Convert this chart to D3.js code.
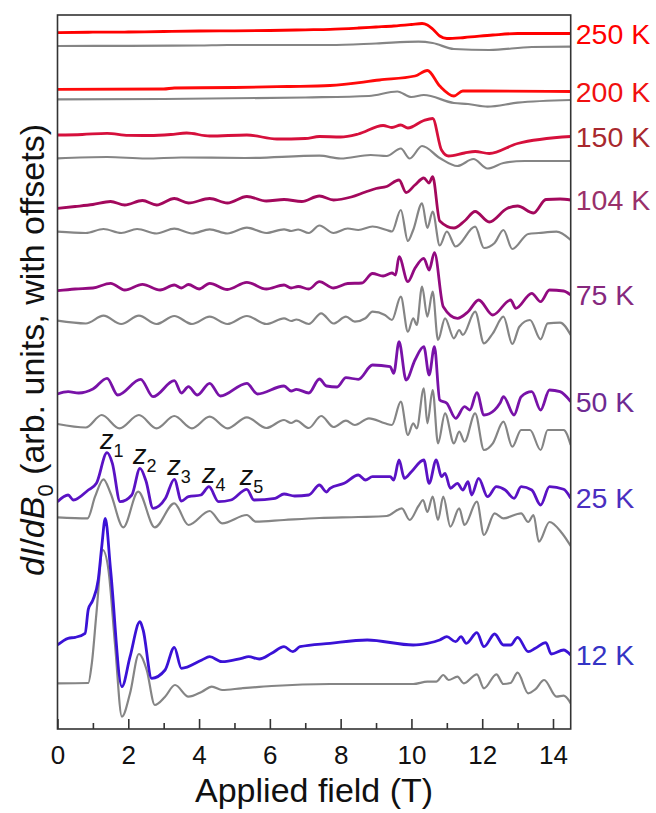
<!DOCTYPE html>
<html>
<head>
<meta charset="utf-8">
<script src="https://cdn.jsdelivr.net/npm/d3@7"></script>
<style>
  html, body { margin: 0; padding: 0; background: #fff; }
  svg { display: block; font-family: Arial, 'Liberation Sans', sans-serif; }
</style>
</head>
<body>
<svg id="chart" width="656" height="813"></svg>
<script>
// dI/dB0 vs applied field, one coloured (measured) and one grey trace per
// temperature. Signal values are in arb. units and already include the offsets.
const temperatures = ['250 K', '200 K', '150 K', '104 K', '75 K', '50 K', '25 K', '12 K'];

const c250 = [[0, 696.3], [1, 696.8], [2, 697], [3, 697.5], [4, 698], [5, 698.2], [6, 698.5], [7, 699.2], [7.7, 699.7], [8.5, 701], [9, 702], [9.5, 703], [10, 704.5], [10.3, 705.5], [10.45, 704], [10.6, 700], [10.8, 693], [11.0, 690.5], [11.5, 691.5], [12.3, 694], [13, 695.5], [13.8, 695.5], [14.5, 695.5]];
const g250 = [[0, 683], [2, 683.2], [4, 683.5], [4.8, 684], [7.7, 684], [9, 685.5], [10.2, 687.3], [10.6, 686], [11.2, 680], [12.2, 679], [13.4, 682], [14.5, 682.3]];

const c200 = [[0, 639.7], [3, 640], [3.3, 641], [5, 641.5], [6.5, 642.5], [7.7, 643.5], [9.1, 649], [10.1, 653], [10.45, 658.5], [10.8, 643], [11.2, 633], [11.45, 638], [12, 638], [14.5, 637.5]];
const g200 = [[0, 629.7], [3, 630], [7, 631.5], [8.8, 633], [9.6, 637.5], [10, 632], [10.35, 634], [11.2, 626], [11.6, 625], [12.15, 622.3], [13, 626.3], [14.5, 629]];

const c150 = [[0, 594], [0.7, 594.5], [1.4, 595.7], [2, 593.7], [2.6, 593.5], [3.2, 594.5], [3.65, 596], [4.3, 593], [5.35, 594], [6.2, 590], [7.0, 590.5], [7.4, 592.5], [8.0, 592], [8.5, 595], [9.2, 603.5], [9.45, 601.5], [9.7, 604], [9.9, 601], [10.35, 608.5], [10.6, 610.5], [10.85, 579], [11.05, 573], [11.5, 576], [11.8, 577.5], [12.2, 575.5], [13, 585.5], [14.5, 592.5]];
const g150 = [[0, 570.7], [1.4, 572], [2.5, 570.5], [3.5, 571.5], [5.3, 571], [7.4, 573.3], [8, 570.5], [8.85, 574], [9.3, 573], [9.7, 580.5], [9.95, 570.5], [10.3, 583], [10.8, 571], [11.3, 563], [11.75, 570], [12.15, 560.5], [12.6, 566], [13.2, 568], [14.5, 568]];

const c104 = [[0, 520.7], [0.5, 522.5], [1.0, 524.5], [1.5, 527.5], [1.9, 524], [2.4, 528.5], [2.8, 524], [3.3, 530.5], [3.7, 526], [4.3, 530.5], [4.8, 526], [5.35, 532.5], [5.9, 528], [6.4, 529.5], [6.9, 527.5], [7.4, 533], [7.8, 529], [8.3, 532], [8.7, 537], [9.0, 540.5], [9.3, 542.5], [9.65, 549], [9.85, 536.5], [10.1, 544], [10.35, 551], [10.5, 546], [10.6, 552.3], [10.8, 508], [11.2, 501], [11.5, 508], [11.8, 517.5], [12.2, 507], [12.7, 520.5], [13.0, 523], [13.45, 516], [13.8, 529.5], [14.2, 530], [14.5, 529]];
const g104 = [[0, 497.3], [0.8, 496], [1.3, 500], [1.8, 496], [2.25, 500], [2.8, 495.5], [3.3, 500.3], [3.8, 495.5], [4.3, 499.7], [4.8, 495.5], [5.35, 501.3], [5.9, 496], [6.4, 499.7], [6.6, 498], [6.8, 499.5], [7.1, 496], [7.4, 503.5], [7.8, 496], [8.2, 500.5], [8.5, 499], [8.9, 502.5], [9.3, 499], [9.45, 497.5], [9.7, 519], [9.9, 488], [10.05, 499], [10.3, 525.7], [10.45, 501], [10.6, 517.3], [10.8, 483.5], [11.0, 497.5], [11.25, 482.5], [11.8, 502.3], [12.05, 481], [12.35, 486], [12.6, 499], [12.85, 480], [13.3, 495], [13.6, 496], [14.1, 497.3], [14.5, 489]];

const c75 = [[0, 438.3], [0.5, 440], [1.0, 441], [1.5, 445.7], [1.9, 439], [2.4, 444.7], [2.9, 439], [3.3, 444], [3.5, 441], [3.7, 444.5], [4.0, 440], [4.3, 445.7], [4.8, 439.5], [5.35, 446.7], [5.9, 440], [6.4, 444], [6.6, 441], [6.8, 442.5], [7.1, 440], [7.4, 447.3], [7.8, 441], [8.2, 445.5], [8.6, 446], [8.9, 455.5], [9.2, 453], [9.45, 456], [9.55, 454], [9.65, 472.3], [9.9, 447.3], [10.1, 460.7], [10.35, 470.7], [10.5, 459], [10.65, 476.3], [10.9, 422.3], [11.3, 410.7], [11.6, 417.3], [11.9, 429], [12.3, 414], [12.8, 429], [12.95, 420.7], [13.4, 435.7], [13.65, 427.3], [13.9, 439], [14.3, 438], [14.5, 434]];
const g75 = [[0, 408.3], [0.8, 405.5], [1.3, 413.3], [1.8, 405], [2.3, 413.3], [2.8, 405], [3.3, 413], [3.8, 405], [4.3, 412.3], [4.8, 405], [5.35, 413], [5.9, 405], [6.4, 410.7], [6.6, 408], [6.75, 409.5], [7.1, 405], [7.45, 415.7], [7.8, 405.5], [8.15, 412.3], [8.4, 407.3], [8.7, 410.7], [8.9, 417.3], [9.25, 414], [9.45, 409], [9.7, 432.3], [9.9, 397.3], [10.05, 410.7], [10.15, 404], [10.3, 442.3], [10.45, 412.3], [10.6, 437.3], [10.75, 389], [10.95, 410.7], [11.2, 390.7], [11.35, 399], [11.45, 394], [11.8, 417.3], [12.05, 385.7], [12.3, 395.7], [12.6, 412.3], [12.85, 385], [13.05, 402.3], [13.35, 409], [13.65, 389.7], [13.85, 405.7], [14.2, 406.3], [14.5, 394]];

const c50 = [[0, 335], [0.3, 337.3], [0.6, 336], [1.0, 340], [1.4, 350.7], [1.7, 334], [2.35, 349.7], [2.7, 332.3], [3.3, 348.3], [3.5, 336], [3.7, 342.3], [3.95, 334], [4.3, 345.7], [4.6, 333], [5.35, 345.7], [5.65, 335], [6.4, 343], [6.6, 338], [6.75, 339.7], [7.1, 336], [7.4, 350], [7.6, 343], [7.9, 342], [8.15, 351.3], [8.5, 349.7], [8.9, 364], [9.4, 362.3], [9.5, 355.7], [9.65, 387.3], [9.85, 349], [10.1, 369], [10.35, 382.3], [10.5, 354], [10.65, 382.3], [10.8, 329], [11.0, 325.7], [11.25, 310.7], [11.5, 322.3], [11.65, 319], [11.85, 336.3], [12.05, 314], [12.35, 319], [12.5, 325.7], [12.6, 332.3], [12.9, 314], [13.1, 332.3], [13.4, 337.3], [13.65, 319], [13.9, 339], [14.2, 337.3], [14.5, 327.3]];
const g50 = [[0, 305], [0.8, 301.5], [1.25, 314], [1.75, 300.7], [2.3, 314], [2.8, 300.7], [3.3, 313], [3.8, 300.7], [4.3, 312.3], [4.8, 300.7], [5.35, 311.7], [5.9, 301], [6.4, 309], [6.6, 306], [6.75, 308.3], [7.1, 301], [7.45, 313], [7.8, 302], [8.15, 308.3], [8.4, 304], [8.8, 310.7], [9.25, 305.7], [9.45, 304], [9.7, 327.3], [9.9, 294], [10.05, 305.7], [10.15, 300.7], [10.35, 340.7], [10.45, 305.7], [10.6, 339], [10.75, 285.7], [10.95, 315.7], [11.2, 285.7], [11.35, 297.3], [11.5, 287.3], [11.8, 315.7], [12.05, 279], [12.3, 285.7], [12.6, 307.3], [12.85, 282.3], [13.1, 299], [13.35, 299], [13.65, 279], [13.85, 299], [14.3, 299], [14.5, 284]];

const c25 = [[0, 227.3], [0.3, 234], [0.45, 229], [0.87, 239], [1.1, 245.7], [1.4, 276.3], [1.55, 265.7], [1.77, 227.3], [2.1, 234], [2.33, 260.7], [2.5, 248], [2.7, 220.7], [3.05, 230.7], [3.3, 249.7], [3.5, 228], [3.7, 232.3], [4.05, 234], [4.28, 242.3], [4.55, 227.3], [4.9, 229], [5.35, 239.7], [5.55, 229], [6.15, 230.7], [6.4, 235], [6.7, 233], [7.1, 234], [7.4, 244], [7.6, 237], [7.7, 240.7], [8.1, 245.7], [8.5, 254], [8.7, 249], [8.9, 252.3], [9.4, 252.3], [9.5, 249], [9.65, 269], [9.8, 250.7], [10.0, 257.3], [10.35, 269], [10.5, 245.7], [10.7, 269], [10.85, 252.3], [10.95, 255.7], [11.1, 240.7], [11.3, 245.7], [11.45, 239], [11.6, 247.3], [11.7, 234], [11.9, 250.7], [12.15, 232.3], [12.4, 242.3], [12.65, 239], [12.9, 230.7], [13.1, 242.3], [13.4, 239], [13.65, 224], [13.9, 242.3], [14.3, 239.7], [14.5, 230.7]];
const g25 = [[0, 211.7], [0.85, 210.7], [1.06, 232.3], [1.3, 249.7], [1.5, 235.7], [1.86, 201.7], [2.28, 237.3], [2.75, 201.7], [3.3, 225.7], [3.7, 204], [4.3, 218], [4.65, 205.7], [5.35, 214], [5.6, 207.3], [6.4, 209], [7.4, 211], [8.5, 212], [9.3, 213], [9.73, 220.7], [9.95, 209], [10.2, 223], [10.33, 229], [10.45, 217], [10.6, 232.3], [10.75, 209], [10.9, 232.3], [11.1, 202.3], [11.35, 220.7], [11.5, 204], [11.85, 227.3], [12.05, 194], [12.35, 215.7], [12.6, 210.7], [13.1, 215.7], [13.3, 207], [13.45, 214], [13.6, 187.3], [13.9, 207], [14.25, 196], [14.5, 183]];

const c12 = [[0, 84], [0.3, 90.7], [0.5, 91.7], [0.78, 95.7], [0.87, 119.7], [1.0, 129], [1.15, 149], [1.25, 182.3], [1.35, 210.7], [1.5, 159], [1.82, 42.3], [2.05, 72.3], [2.33, 107.3], [2.42, 99], [2.66, 50.7], [3.04, 59], [3.3, 81.7], [3.5, 60.7], [4.08, 69], [4.3, 72.3], [4.65, 67.3], [5.2, 70.7], [5.4, 72.3], [5.7, 70], [6.05, 75.7], [6.4, 82.3], [6.65, 77.3], [6.85, 82.3], [7.7, 85.7], [8.75, 89], [10.05, 84], [10.45, 85.7], [10.8, 89], [11.0, 92.3], [11.25, 87.3], [11.4, 92.3], [11.55, 85.7], [11.85, 96.3], [12.05, 82.3], [12.35, 95], [12.6, 84], [12.8, 84], [13.0, 91.7], [13.3, 77.3], [13.5, 80.7], [13.8, 86.3], [13.95, 75], [14.3, 79], [14.5, 74]];
const g12 = [[0, 45.7], [0.87, 46], [0.97, 65.7], [1.1, 115.7], [1.28, 179], [1.44, 159], [1.63, 82.3], [1.82, 12.3], [2.05, 35.7], [2.3, 75], [2.52, 59], [2.75, 24], [3.04, 32.3], [3.32, 44], [3.7, 32.3], [4.08, 37.3], [4.36, 42.3], [4.65, 39], [5.2, 40.7], [6.05, 43], [7.7, 45], [9.1, 45], [10.05, 45], [10.45, 47.3], [10.7, 47.3], [10.9, 54], [11.05, 49], [11.3, 52.3], [11.48, 45.7], [11.85, 54.7], [12.05, 40.7], [12.4, 54.7], [12.6, 45], [12.8, 46], [13.0, 56.3], [13.3, 35.7], [13.5, 39.7], [13.75, 49], [14.1, 32.3], [14.3, 33.3], [14.5, 25.7]];

const measured = [c250, c200, c150, c104, c75, c50, c25, c12];
const reference = [g250, g200, g150, g104, g75, g50, g25, g12];

// Landau-level peaks z1..z5 marked on the 25 K trace
const zPeaks = [1.4, 2.33, 3.3, 4.28, 5.35];
const zSubs = ['1', '2', '3', '4', '5'];

const majorTicks = [0, 2, 4, 6, 8, 10, 12, 14];
const minorTicks = [1, 3, 5, 7, 9, 11, 13];

// styling
const LINE_COLORS = ['#ff0000', '#ff0a0a', '#d6103c', '#a3085c', '#920a80', '#7812a8', '#5a12c4', '#3a12d6'];
const LABEL_COLORS = ['#ff0000', '#f01010', '#a8282e', '#99306a', '#86287e', '#6e2a92', '#4a2ec0', '#3434c4'];
const GREY = '#858585';

const M = { left: 57.5, top: 15, right: 570.7, bottom: 729 };

const svg = d3.select('#chart');

const x = d3.scaleLinear().domain([0, 14.5]).range([M.left, M.right]);
const y = d3.scaleLinear().domain([0, 714]).range([M.bottom, M.top]);

svg.append('defs').append('clipPath').attr('id', 'plot-clip')
  .append('rect')
  .attr('x', M.left).attr('y', M.top)
  .attr('width', M.right - M.left).attr('height', M.bottom - M.top);

const line = d3.line()
  .x((d) => x(d[0]))
  .y((d) => y(d[1]))
  .curve(d3.curveMonotoneX);

const traces = svg.append('g').attr('clip-path', 'url(#plot-clip)');

traces.selectAll('path.ref')
  .data(reference)
  .enter()
  .append('path')
  .attr('class', 'ref')
  .attr('d', line)
  .attr('fill', 'none')
  .attr('stroke', GREY)
  .attr('stroke-width', 2.2)
  .attr('stroke-linejoin', 'round');

traces.selectAll('path.meas')
  .data(measured)
  .enter()
  .append('path')
  .attr('class', 'meas')
  .attr('d', line)
  .attr('fill', 'none')
  .attr('stroke', (d, i) => LINE_COLORS[i])
  .attr('stroke-width', 2.8)
  .attr('stroke-linejoin', 'round');

// frame
svg.append('rect')
  .attr('x', M.left).attr('y', M.top)
  .attr('width', M.right - M.left).attr('height', M.bottom - M.top)
  .attr('fill', 'none')
  .attr('stroke', '#333')
  .attr('stroke-width', 1.6);

// bottom axis, ticks pointing inwards
const axisG = svg.append('g').attr('transform', `translate(0,${M.bottom})`);
axisG.call(d3.axisBottom(x).tickValues(majorTicks).tickSizeInner(-10).tickSizeOuter(0).tickPadding(17));
axisG.select('.domain').remove();
axisG.selectAll('.tick line').attr('stroke', '#333').attr('stroke-width', 1.6);
axisG.selectAll('.tick text')
  .attr('fill', '#111')
  .style('font-size', '26px')
  .style('font-family', "Arial, 'Liberation Sans', sans-serif");

const minorG = svg.append('g').attr('transform', `translate(0,${M.bottom})`);
minorG.call(d3.axisBottom(x).tickValues(minorTicks).tickSizeInner(-6).tickSizeOuter(0).tickFormat(''));
minorG.select('.domain').remove();
minorG.selectAll('.tick line').attr('stroke', '#333').attr('stroke-width', 1.6);

// axis titles
svg.append('text')
  .attr('x', (M.left + M.right) / 2)
  .attr('y', 802)
  .attr('text-anchor', 'middle')
  .attr('fill', '#111')
  .style('font-size', '34px')
  .text('Applied field (T)');

const yTitle = svg.append('text')
  .attr('transform', 'translate(44,350) rotate(-90)')
  .attr('text-anchor', 'middle')
  .attr('fill', '#111')
  .style('font-size', '34px');
yTitle.append('tspan').style('font-style', 'italic').text('dI');
yTitle.append('tspan').text('/');
yTitle.append('tspan').style('font-style', 'italic').text('dB');
yTitle.append('tspan').attr('dy', 9).style('font-size', '22px').text('0');
yTitle.append('tspan').attr('dy', -9).text(' (arb. units, with offsets)');

// temperature labels at the right end of each coloured trace
svg.selectAll('text.temp')
  .data(measured)
  .enter()
  .append('text')
  .attr('class', 'temp')
  .attr('x', M.right + 5)
  .attr('y', (d) => y(d[d.length - 1][1]))
  .attr('dominant-baseline', 'central')
  .attr('fill', (d, i) => LABEL_COLORS[i])
  .style('font-size', '28.5px')
  .text((d, i) => temperatures[i]);

// z_n peak labels
const zG = svg.selectAll('text.z')
  .data(zPeaks)
  .enter()
  .append('text')
  .attr('class', 'z')
  .attr('x', (d) => x(d) - 7)
  .attr('y', (d) => {
    const p = c25.reduce((a, b) => (Math.abs(b[0] - d) < Math.abs(a[0] - d) ? b : a));
    return y(p[1]) - 4;
  })
  .attr('fill', '#111')
  .style('font-size', '27px');
zG.append('tspan').style('font-style', 'italic').text('z');
zG.append('tspan').attr('dy', 8).style('font-size', '18px').text((d, i) => zSubs[i]);
</script>
</body>
</html>
